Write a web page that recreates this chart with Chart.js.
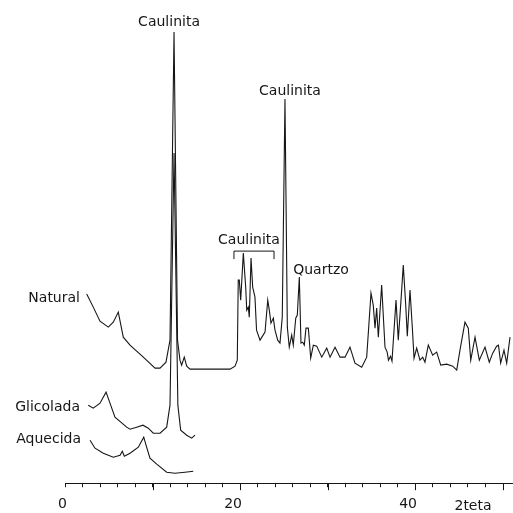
<!DOCTYPE html>
<html lang="pt">
  <head>
    <meta charset="UTF-8" />
    <title>Difratograma - Caulinita</title>
    <style>
      body {
        margin: 0;
        background: #fff;
      }
      .box {
        width: 513px;
        height: 513px;
      }
    </style>
  </head>
  <body>
    <div class="box">
      <canvas id="myChart"></canvas>
    </div>

    <script src="https://cdn.jsdelivr.net/npm/chart.js"></script>

    <script>
      // 2teta (graus) e intensidade (unidades arbitrarias, curvas deslocadas)
      const naturalTheta = [
        2.48, 3.23, 4.0, 4.95, 5.52, 6.09, 6.66, 7.43, 8.95, 10.29, 10.86, 11.54,
        12.0, 12.46, 12.86, 13.14, 13.33, 13.63, 13.91, 14.29, 15.43, 18.86, 19.43,
        19.69, 19.8, 19.92, 20.08, 20.38, 20.65, 20.77, 20.95, 21.06, 21.26, 21.45,
        21.71, 21.89, 22.29, 22.86, 23.17, 23.35, 23.54, 23.81, 24.0, 24.31, 24.57,
        24.83, 25.14, 25.41, 25.63, 25.91, 26.09, 26.37, 26.55, 26.78, 26.97, 27.17,
        27.35, 27.54, 27.81, 28.08, 28.38, 28.77, 29.34, 29.91, 30.29, 30.86, 31.43,
        32.0, 32.57, 33.14, 33.91, 34.48, 34.97, 35.23, 35.43, 35.62, 35.81, 36.19,
        36.57, 36.82, 36.97, 37.2, 37.37, 37.83, 38.09, 38.4, 38.66, 38.94, 39.12,
        39.43, 39.69, 39.89, 40.19, 40.57, 40.88, 41.14, 41.52, 42.02, 42.48, 42.94,
        43.62, 44.31, 44.77, 45.14, 45.71, 46.09, 46.37, 46.86, 47.35, 48.0, 48.49,
        48.88, 49.33, 49.54, 49.79, 50.17, 50.48, 50.86,
      ];
      const naturalCounts = [
        189, 176, 162, 156, 161, 171, 146, 138, 126, 115, 115, 121,
        143, 451, 143, 123, 118, 126, 117, 114, 114, 114, 117,
        123, 203, 203, 183, 230, 196, 173, 176, 166, 225, 196,
        186, 153, 143, 151, 183, 173, 160, 165, 153, 143, 140,
        166, 384, 156, 136, 148, 138, 165, 168, 206, 140, 141,
        138, 155, 155, 125, 138, 137, 126, 135, 126, 136, 126,
        126, 136, 120, 116, 126, 190, 178, 155, 175, 146, 198,
        136, 131, 123, 127, 122, 183, 143, 183, 218, 178, 147,
        193, 156, 125, 135, 123, 126, 121, 138, 128, 131, 118,
        119, 117, 113, 133, 161, 155, 123, 146, 123, 136, 121,
        130, 137, 138, 120, 133, 120, 146,
      ];

      const glicoladaTheta = [
        2.66, 3.23, 4.0, 4.69, 5.14, 5.71, 7.05, 7.43, 8.19, 8.91, 9.52, 10.09,
        10.86, 11.62, 12.0, 12.46, 12.9, 13.0, 13.22, 13.91, 14.48, 14.86,
      ];
      const glicoladaCounts = [
        78, 75, 80, 91, 80, 66, 56, 54, 56, 58, 55, 50,
        50, 56, 78, 330, 78, 70, 53, 48, 45, 48,
      ];

      const aquecidaTheta = [
        2.86, 3.43, 4.38, 5.52, 6.29, 6.55, 6.78, 7.43, 8.38, 9.0, 9.26, 9.71,
        10.48, 11.62, 12.57, 13.71, 14.66,
      ];
      const aquecidaCounts = [
        43, 35, 30, 26, 28, 32, 27, 30, 36, 46, 38, 25,
        19, 11, 10, 11, 12,
      ];

      const tickLabels = [0, 20, 40];
      const majorTicks = [10, 20, 30, 40, 50];

      function toPoints(xs, ys) {
        return xs.map((x, i) => ({ x: x, y: ys[i] }));
      }

      const font = "DejaVu Sans";
      const ink = "#161616";

      // textos: [texto, 2teta, intensidade, alinhamento]
      const notes = [
        ["Caulinita", 11.89, 461, "center"],
        ["Caulinita", 25.71, 392, "center"],
        ["Caulinita", 21.03, 243, "center"],
        ["Quartzo", 29.26, 213, "center"],
        ["Natural", 1.71, 185, "right"],
        ["Glicolada", 1.71, 75.5, "right"],
        ["Aquecida", 1.83, 44, "right"],
        ["2teta", 46.63, -23, "center"],
      ];

      const annotate = {
        id: "annotate",
        afterDraw(chart) {
          const c = chart.ctx;
          const xs = chart.scales.x;
          const ys = chart.scales.y;
          c.save();
          c.fillStyle = ink;
          c.strokeStyle = ink;
          c.font = "14px " + font;
          c.textBaseline = "middle";
          notes.forEach((n) => {
            c.textAlign = n[3];
            c.fillText(n[0], xs.getPixelForValue(n[1]), ys.getPixelForValue(n[2]));
          });

          // colchete sobre os picos de caulinita
          c.lineWidth = 1;
          const x1 = xs.getPixelForValue(19.31);
          const x2 = xs.getPixelForValue(23.89);
          const yt = ys.getPixelForValue(232);
          const yb = ys.getPixelForValue(224);
          c.beginPath();
          c.moveTo(x1, yb);
          c.lineTo(x1, yt);
          c.lineTo(x2, yt);
          c.lineTo(x2, yb);
          c.stroke();

          // marcas maiores a cada 10
          const base = chart.chartArea.bottom;
          majorTicks.forEach((v) => {
            const px = Math.round(xs.getPixelForValue(v)) + 0.5;
            c.beginPath();
            c.moveTo(px, base);
            c.lineTo(px, base + 7);
            c.stroke();
          });
          c.restore();
        },
      };

      const ctx = document.getElementById("myChart");

      new Chart(ctx, {
        type: "line",
        data: {
          datasets: [
            { label: "Natural", data: toPoints(naturalTheta, naturalCounts) },
            { label: "Glicolada", data: toPoints(glicoladaTheta, glicoladaCounts) },
            { label: "Aquecida", data: toPoints(aquecidaTheta, aquecidaCounts) },
          ],
        },
        options: {
          responsive: true,
          maintainAspectRatio: false,
          animation: false,
          layout: { padding: { left: 65, right: 0, top: 0, bottom: -9 } },
          elements: {
            line: { borderColor: ink, borderWidth: 1.1, tension: 0 },
            point: { radius: 0 },
          },
          plugins: {
            legend: { display: false },
            tooltip: { enabled: false },
          },
          scales: {
            x: {
              type: "linear",
              min: 0,
              max: 51.2,
              border: { display: true, color: ink, width: 1 },
              grid: {
                drawOnChartArea: false,
                drawTicks: true,
                tickLength: 4,
                tickColor: ink,
              },
              ticks: {
                stepSize: 2,
                autoSkip: false,
                maxRotation: 0,
                align: "end",
                labelOffset: 2,
                padding: 9,
                color: ink,
                font: { family: font, size: 14 },
                callback: (v) => {
                  if (Math.abs(v / 2 - Math.round(v / 2)) > 1e-6) return null;
                  return tickLabels.includes(v) ? String(v) : "";
                },
              },
            },
            y: {
              display: false,
              min: 0,
              max: 483,
            },
          },
        },
        plugins: [annotate],
      });
    </script>
  </body>
</html>
